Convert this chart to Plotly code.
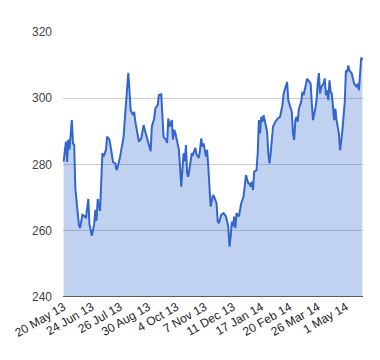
import plotly.graph_objects as go

# trading-day index (0 = first session shown) and closing value
trading_day = [0, 2, 3, 4, 5, 7, 8, 9, 10, 11, 13, 14, 16, 18, 19, 21, 22, 24, 26, 27,
               28, 29, 31, 32, 33, 34, 36, 37, 39, 40, 42, 44, 45, 46, 48, 50, 51, 52, 54, 55,
               56, 57, 59, 60, 61, 63, 64, 66, 68, 69, 71, 73, 74, 75, 77, 78, 80, 81, 83, 85,
               87, 88, 89, 90, 92, 93, 94, 95, 97, 98, 99, 100, 102, 103, 104, 105, 106, 108, 109, 110,
               112, 113, 115, 116, 117, 118, 119, 121, 122, 123, 124, 125, 127, 128, 130, 131, 132, 134, 136, 138,
               140, 141, 142, 143, 144, 145, 146, 147, 149, 150, 151, 153, 154, 155, 157, 158, 159, 160, 161, 162,
               164, 165, 166, 167, 168, 169, 170, 171, 173, 174, 175, 176, 177, 178, 180, 182, 184, 186, 187, 189,
               190, 191, 192, 194, 195, 196, 197, 198, 199, 200, 202, 203, 204, 205, 207, 208, 210, 211, 212, 214,
               215, 216, 217, 218, 219, 221, 222, 223, 224, 225, 226, 227, 228, 229, 230, 231, 232, 234, 235, 237,
               238, 239, 240, 241, 242, 243, 245, 246, 247, 249, 250, 251, 252, 253, 254]
price = [280.8, 286.9, 280.8, 287.5, 284.5, 293.4, 286.3, 286.0, 272.8, 269.6, 261.8, 260.8, 264.8, 264.3, 263.8, 269.6, 262.0, 258.5, 262.0, 266.3,
         263.0, 269.6, 266.0, 275.0, 283.4, 282.4, 284.4, 288.4, 287.5, 285.4, 280.8, 280.3, 278.3, 279.3, 282.3, 286.3, 288.3, 293.4, 304.4, 307.7,
         302.5, 296.4, 294.9, 295.9, 292.9, 287.9, 286.9, 287.9, 291.9, 290.5, 288.0, 285.0, 284.0, 291.4, 293.9, 296.9, 298.0, 301.0, 301.2, 288.3,
         287.5, 286.5, 293.9, 291.4, 293.4, 287.5, 290.5, 289.5, 286.5, 284.5, 279.3, 273.3, 283.4, 281.0, 285.9, 277.3, 276.3, 280.3, 283.4, 283.0,
         285.0, 283.0, 282.0, 284.5, 287.9, 285.4, 286.4, 282.4, 284.4, 279.3, 271.3, 267.3, 270.8, 270.3, 268.3, 262.8, 262.3, 264.8, 265.3, 264.3,
         261.3, 255.2, 258.2, 262.8, 261.3, 264.3, 260.8, 265.3, 264.3, 266.8, 268.3, 270.3, 273.3, 276.8, 274.3, 274.3, 273.3, 274.8, 272.3, 277.8,
         278.3, 283.4, 293.4, 289.4, 294.4, 292.9, 294.9, 293.4, 289.9, 283.4, 280.3, 283.4, 288.4, 291.4, 292.9, 293.9, 294.4, 297.9, 301.4, 303.9,
         304.9, 299.4, 298.4, 295.9, 289.4, 287.4, 293.4, 294.4, 292.9, 296.9, 298.9, 301.9, 300.9, 302.9, 305.9, 305.4, 304.4, 298.4, 293.4, 296.9,
         299.4, 304.4, 307.6, 301.4, 303.4, 304.4, 306.0, 300.9, 302.4, 299.4, 305.4, 301.9, 301.4, 297.4, 293.4, 296.9, 293.4, 289.4, 284.3, 290.4,
         295.9, 298.9, 308.4, 307.9, 309.9, 308.4, 307.4, 305.9, 304.4, 303.4, 304.4, 302.4, 309.4, 312.3, 311.5, 311.3]

tick_index = [0, 24, 48, 72, 96, 120, 144, 168, 192, 216, 240]
tick_labels = ["20 May 13", "24 Jun 13", "26 Jul 13", "30 Aug 13", "4 Oct 13", "7 Nov 13",
               "11 Dec 13", "17 Jan 14", "20 Feb 14", "26 Mar 14", "1 May 14"]
y_ticks = [240, 260, 280, 300, 320]

fig = go.Figure()
fig.add_trace(go.Scatter(
    x=trading_day, y=price, mode="lines", fill="tozeroy",
    line=dict(color="#3366CC", width=2),
    fillcolor="rgba(51,102,204,0.3)",
    hoverinfo="skip",
))

font_family = "Arial, Liberation Sans, sans-serif"
fig.update_layout(
    width=372, height=352,
    margin=dict(l=55, r=17, t=24, b=63),
    paper_bgcolor="white", plot_bgcolor="white",
    showlegend=False,
    font=dict(family=font_family, size=12, color="#222222"),
    xaxis=dict(
        range=[-0.5, 254.5], automargin=False,
        tickmode="array", tickvals=tick_index, ticktext=tick_labels,
        tickangle=-30, showgrid=False, zeroline=False, showline=False,
        ticks="", tickfont=dict(size=12, color="#222222"),
    ),
    yaxis=dict(
        range=[240, 320], automargin=False,
        tickmode="array", tickvals=y_ticks,
        showgrid=True, gridcolor="#cccccc", gridwidth=1,
        zeroline=False, showline=False, ticks="",
        ticklabelstandoff=10,
        tickfont=dict(size=12, color="#444444"),
    ),
    shapes=[dict(type="line", xref="paper", yref="y", x0=0, x1=1, y0=240, y1=240,
                 line=dict(color="#333333", width=1.5))],
)

fig.write_html("out.html")
